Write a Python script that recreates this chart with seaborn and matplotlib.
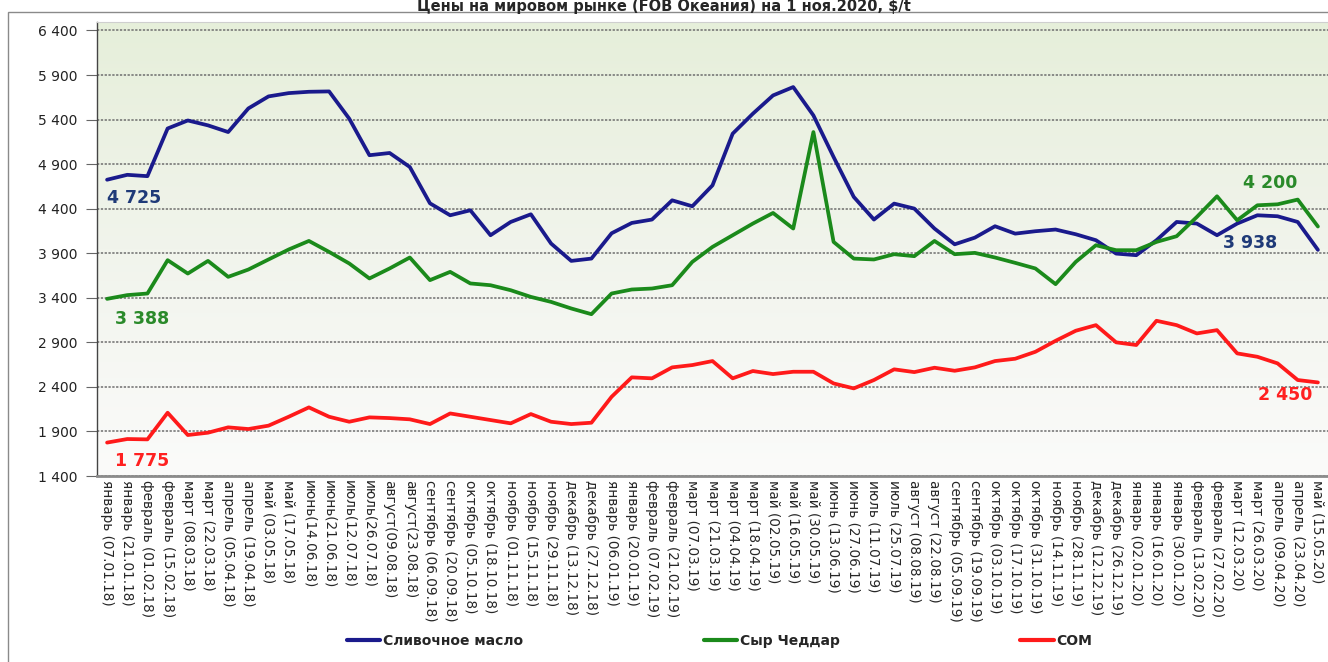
import matplotlib
matplotlib.use("Agg")
import matplotlib.pyplot as plt
import matplotlib.ticker as mticker
from matplotlib.colors import LinearSegmentedColormap
from matplotlib.lines import Line2D
from matplotlib.patches import Rectangle
import numpy as np
import pandas as pd
import seaborn as sns

# dates of the price points (x axis labels)
dates = [
    "январь (07.01.18)", "январь (21.01.18)", "февраль (01.02.18)", "февраль (15.02.18)",
    "март (08.03.18)", "март (22.03.18)", "апрель (05.04.18)", "апрель (19.04.18)",
    "май (03.05.18)", "май (17.05.18)", "июнь(14.06.18)", "июнь(21.06.18)",
    "июль(12.07.18)", "июль(26.07.18)", "август(09.08.18)", "август(23.08.18)",
    "сентябрь (06.09.18)", "сентябрь (20.09.18)", "октябрь (05.10.18)", "октябрь (18.10.18)",
    "ноябрь (01.11.18)", "ноябрь (15.11.18)", "ноябрь (29.11.18)", "декабрь (13.12.18)",
    "декабрь (27.12.18)", "январь (06.01.19)", "январь (20.01.19)", "февраль (07.02.19)",
    "февраль (21.02.19)", "март (07.03.19)", "март (21.03.19)", "март (04.04.19)",
    "март (18.04.19)", "май (02.05.19)", "май (16.05.19)", "май (30.05.19)",
    "июнь (13.06.19)", "июнь (27.06.19)", "июль (11.07.19)", "июль (25.07.19)",
    "август (08.08.19)", "август (22.08.19)", "сентябрь (05.09.19)", "сентябрь (19.09.19)",
    "октябрь (03.10.19)", "октябрь (17.10.19)", "октябрь (31.10.19)", "ноябрь (14.11.19)",
    "ноябрь (28.11.19)", "декабрь (12.12.19)", "декабрь (26.12.19)", "январь (02.01.20)",
    "январь (16.01.20)", "январь (30.01.20)", "февраль (13.02.20)", "февраль (27.02.20)",
    "март (12.03.20)", "март (26.03.20)", "апрель (09.04.20)", "апрель (23.04.20)",
    "май (15.05.20)",
]

butter = [
    4725, 4780, 4765, 5300, 5390, 5335, 5260, 5525, 5660, 5697,
    5712, 5716, 5410, 5000, 5025, 4868, 4460, 4326, 4382, 4102,
    4251, 4337, 4009, 3814, 3840, 4124, 4240, 4278, 4494, 4427,
    4662, 5242, 5466, 5671, 5765, 5447, 4980, 4532, 4278, 4457,
    4401, 4177, 4000, 4075, 4203, 4120, 4147, 4166, 4113, 4046,
    3896, 3878, 4046, 4251, 4233, 4102, 4233, 4326, 4315, 4251,
    3938,
]

cheddar = [
    3388, 3430, 3448, 3822, 3672, 3814, 3635, 3717, 3830, 3942,
    4038, 3915, 3785, 3617, 3729, 3852, 3598, 3691, 3561, 3541,
    3485, 3410, 3354, 3280, 3216, 3448, 3493, 3504, 3541, 3803,
    3971, 4102, 4233, 4352, 4177, 5260, 4027, 3840, 3830, 3889,
    3867, 4038, 3889, 3904, 3852, 3792, 3729, 3553, 3803, 3990,
    3934, 3934, 4027, 4091, 4307, 4539, 4270, 4438, 4449, 4502,
    4200,
]

smp = [
    1775, 1815, 1811, 2110, 1860, 1886, 1946, 1927, 1965, 2065,
    2170, 2065, 2009, 2058, 2050, 2036, 1983, 2102, 2065, 2028,
    1991, 2095, 2009, 1983, 1998, 2289, 2507, 2496, 2619, 2645,
    2690, 2496, 2578, 2544, 2570, 2570, 2439, 2383, 2477, 2597,
    2566, 2615, 2581, 2619, 2690, 2716, 2794, 2917, 3030, 3093,
    2900, 2870, 3142, 3093, 3000, 3037, 2776, 2738, 2664, 2477,
    2450,
]

series_names = ["Сливочное масло", "Сыр Чеддар", "СОМ"]
line_colors = ["#1a1a8c", "#1b8a1b", "#ff1a1a"]
label_colors = ["#1f3a78", "#2a8a2a", "#ff2020"]
title = "Цены на мировом рынке (FOB Океания) на 1 ноя.2020, $/t"

n = len(dates)
df = pd.DataFrame({
    "idx": list(range(n)) * 3,
    "price": butter + cheddar + smp,
    "series": [s for s in series_names for _ in range(n)],
})

sns.set_style("white")
plt.rcParams["font.family"] = ["DejaVu Sans"]
plt.rcParams["lines.solid_joinstyle"] = "round"
plt.rcParams["lines.solid_capstyle"] = "round"

W, H = 1328, 662
fig = plt.figure(figsize=(W / 100, H / 100), dpi=100)
ax = fig.add_axes([97 / W, 1 - 476 / H, (W - 97) / W, (476 - 22) / H])

# soft green to white gradient behind the plot
grad = np.linspace(0, 1, 256).reshape(-1, 1)
cmap = LinearSegmentedColormap.from_list("bg", ["#fbfbfa", "#f1f4ec", "#e6efda"])
ax.imshow(grad, extent=[0, 1, 0, 1], transform=ax.transAxes, cmap=cmap,
          aspect="auto", origin="lower", zorder=0)

sns.lineplot(data=df, x="idx", y="price", hue="series", palette=line_colors,
             linewidth=2.7, ax=ax, legend=False, sort=False, zorder=3)

ax.set_xlim(-0.5, 60.15)
ax.set_ylim(1400, 6495)
ax.set_yticks(range(1400, 6401, 500))
ax.yaxis.set_major_formatter(mticker.FuncFormatter(lambda v, p: f"{int(v):,}".replace(",", " ")))
ax.set_xticks(range(n))
ax.set_xticklabels(dates, rotation=-90, ha="center", va="top", fontsize=9.8)
ax.set_xticks(np.arange(0.5, n, 1), minor=True)
ax.tick_params(axis="x", which="major", length=0, pad=3)
ax.tick_params(axis="x", which="minor", length=4, color="#555555", direction="out")
ax.tick_params(axis="y", length=8, color="#666666", labelsize=10, labelcolor="#222222", pad=6, left=True)
ax.set_xlabel("")
ax.set_ylabel("")

ax.set_axisbelow(True)
ax.yaxis.grid(True, color="#6e6e6e", linestyle=(0, (1.5, 1)), linewidth=1.1)
ax.xaxis.grid(False)

for side in ["left", "bottom"]:
    ax.spines[side].set_visible(True)
ax.spines["left"].set_color("#444444")
ax.spines["left"].set_linewidth(1)
ax.spines["bottom"].set_color("#8c8c8c")
ax.spines["bottom"].set_linewidth(2)
ax.spines["top"].set_color("#cfcfcf")
ax.spines["right"].set_visible(False)

# value labels at the start and end of each series
lab = dict(fontsize=12.5, fontweight="bold", zorder=4)
ax.text(0.0, 4520, f"{butter[0]:,}".replace(",", " "), color=label_colors[0], ha="left", va="center", **lab)
ax.text(0.4, 3160, f"{cheddar[0]:,}".replace(",", " "), color=label_colors[1], ha="left", va="center", **lab)
ax.text(0.4, 1570, f"{smp[0]:,}".replace(",", " "), color=label_colors[2], ha="left", va="center", **lab)
ax.text(56.3, 4685, f"{cheddar[-1]:,}".replace(",", " "), color=label_colors[1], ha="left", va="center", **lab)
ax.text(55.3, 4012, f"{butter[-1]:,}".replace(",", " "), color=label_colors[0], ha="left", va="center", **lab)
ax.text(59.75, 2308, f"{smp[-1]:,}".replace(",", " "), color=label_colors[2], ha="right", va="center", **lab)

fig.text(0.5, 1 - 6 / H, title, ha="center", va="center", fontsize=10.5, fontweight="bold")

handles = [Line2D([0], [0], color=c, lw=3) for c in line_colors]
fig.legend(handles, series_names, loc="center", bbox_to_anchor=(0.542, 1 - 641 / H), ncol=3,
           frameon=False, columnspacing=13, handlelength=2.4, handletextpad=0.2,
           prop={"size": 10, "weight": "bold"})

fig.add_artist(Rectangle((8 / W, -0.01), 1.0, 1 - 12 / H + 0.01, transform=fig.transFigure,
                         fill=False, edgecolor="#8a8a8a", linewidth=1))

fig.savefig("out.png", dpi=100)
